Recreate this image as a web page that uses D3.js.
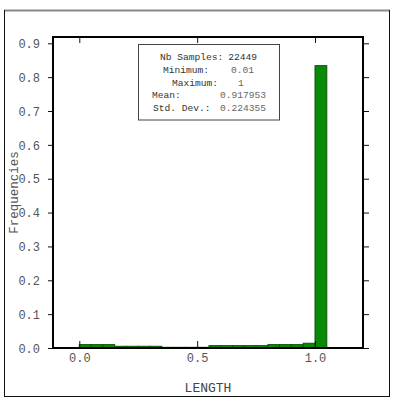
<!DOCTYPE html>
<html>
<head>
<meta charset="utf-8">
<script src="https://cdn.jsdelivr.net/npm/d3@7/dist/d3.min.js"></script>
<style>
  html, body { margin: 0; padding: 0; background: #fff; }
  svg { display: block; }
  text { font-family: "Liberation Mono", "DejaVu Sans Mono", monospace; }
</style>
</head>
<body>
<svg id="chart" width="398" height="403"></svg>
<script>
// ---- data ----
const binStarts = [0.00,0.05,0.10,0.15,0.20,0.25,0.30,0.35,0.40,0.45,0.50,0.55,0.60,0.65,0.70,0.75,0.80,0.85,0.90,0.95,1.00];
const binWidth = 0.05;
const frequencies = [0.010,0.010,0.010,0.005,0.005,0.005,0.005,0.002,0.002,0.002,0.002,0.007,0.007,0.007,0.007,0.007,0.010,0.010,0.010,0.014,0.834];
const xTicks = [0.0, 0.5, 1.0];
const yTicks = [0.0,0.1,0.2,0.3,0.4,0.5,0.6,0.7,0.8,0.9];
const statLabels = ["Nb Samples:", "Minimum:", "Maximum:", "Mean:", "Std. Dev.:"];
const statValues = ["22449", "0.01", "1", "0.917953", "0.224355"];
const xTitle = "LENGTH";
const yTitle = "Frequencies";

// ---- layout ----
const svg = d3.select("#chart");
const L = 53, R = 363, T = 37, B = 348;
const x = d3.scaleLinear().domain([-0.1116, 1.2036]).range([L, R]);
const y = d3.scaleLinear().domain([0, 0.9186]).range([B, T]);

// outer frame
svg.append("line").attr("x1", 4).attr("x2", 390).attr("y1", 10.5).attr("y2", 10.5)
  .attr("stroke", "#888").attr("stroke-width", 2);
svg.append("line").attr("x1", 4.5).attr("x2", 4.5).attr("y1", 10).attr("y2", 397)
  .attr("stroke", "#111").attr("stroke-width", 1);
svg.append("line").attr("x1", 389.5).attr("x2", 389.5).attr("y1", 10).attr("y2", 397)
  .attr("stroke", "#111").attr("stroke-width", 1);
svg.append("line").attr("x1", 4).attr("x2", 390).attr("y1", 396.5).attr("y2", 396.5)
  .attr("stroke", "#111").attr("stroke-width", 1);

// bars
svg.append("g").selectAll("rect").data(binStarts).join("rect")
  .attr("x", d => x(d))
  .attr("width", d => x(d + binWidth) - x(d))
  .attr("y", (d, i) => y(frequencies[i]))
  .attr("height", (d, i) => B - y(frequencies[i]))
  .attr("fill", "#088a08")
  .attr("stroke", "#0b550b")
  .attr("stroke-width", 1);

// axes
const tickColor = "#111";
const labelColor = "#555";
const fontSize = 12;

// left (outward ticks + labels)
const gl = svg.append("g").attr("transform", `translate(${L},0)`)
  .call(d3.axisLeft(y).tickValues(yTicks).tickFormat(d3.format(".1f")).tickSize(5).tickPadding(8));
// right (inward)
const gr = svg.append("g").attr("transform", `translate(${R},0)`)
  .call(d3.axisLeft(y).tickValues(yTicks).tickFormat("").tickSize(-6));
gr.selectAll("text").remove();
// bottom (inward ticks, labels below)
const gb = svg.append("g").attr("transform", `translate(0,${B})`)
  .call(d3.axisBottom(x).tickValues(xTicks).tickFormat(d3.format(".1f")).tickSize(-7).tickPadding(12));
// top (inward)
const gt = svg.append("g").attr("transform", `translate(0,${T})`)
  .call(d3.axisTop(x).tickValues(xTicks).tickFormat("").tickSize(-6));

[gl, gr, gb, gt].forEach(g => {
  g.select(".domain").remove();
  g.selectAll(".tick line").attr("stroke", tickColor).attr("stroke-width", 1);
  g.selectAll(".tick text").attr("fill", labelColor)
    .style("font-family", '"Liberation Mono", monospace').style("font-size", fontSize + "px");
});
gl.selectAll(".tick text").attr("dy", "0.35em");
gb.selectAll(".tick text").attr("dy", "0.2em");

// plot frame
svg.append("rect").attr("x", L).attr("y", T).attr("width", R - L).attr("height", B - T)
  .attr("fill", "none").attr("stroke", "#000").attr("stroke-width", 2);

// axis titles
svg.append("text").attr("x", (L + R) / 2).attr("y", 392)
  .attr("text-anchor", "middle").attr("fill", "#444").style("font-size", "13px").text(xTitle);
svg.append("text")
  .attr("transform", `translate(18,${(T + B) / 2}) rotate(-90)`)
  .attr("text-anchor", "middle").attr("fill", "#555").style("font-size", "12.5px").text(yTitle);

// stats box
svg.append("rect").attr("x", 138.5).attr("y", 44.5).attr("width", 141).attr("height", 75.5)
  .attr("fill", "#fff").attr("stroke", "#444").attr("stroke-width", 1);
const lineY = [60, 72.5, 85.5, 98, 110.5];
const labelX = [160, 163, 172, 152, 153];
const valueX = [257, 231, 238, 220, 220];
const valueAnchor = ["end", "start", "start", "start", "start"];
const statFont = "9.6px";
svg.append("g").selectAll("text").data(statLabels).join("text")
  .attr("x", (d, i) => labelX[i]).attr("y", (d, i) => lineY[i])
  .attr("fill", "#333").style("font-size", statFont).text(d => d);
svg.append("g").selectAll("text").data(statValues).join("text")
  .attr("x", (d, i) => valueX[i]).attr("y", (d, i) => lineY[i])
  .attr("text-anchor", (d, i) => valueAnchor[i])
  .attr("fill", (d, i) => i === 0 ? "#333" : "#666").style("font-size", statFont).text(d => d);
</script>
</body>
</html>
